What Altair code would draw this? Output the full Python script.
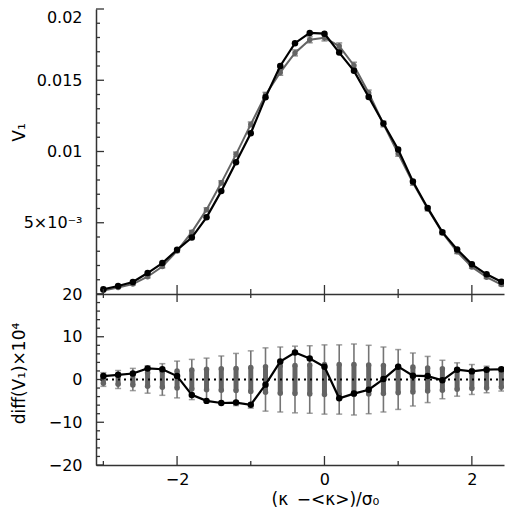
import altair as alt
import pandas as pd

# ---------------- data ----------------
xs = [-3.0, -2.8, -2.6, -2.4, -2.2, -2.0, -1.8, -1.6, -1.4, -1.2, -1.0, -0.8, -0.6, -0.4, -0.2,
      0.0, 0.2, 0.4, 0.6, 0.8, 1.0, 1.2, 1.4, 1.6, 1.8, 2.0, 2.2, 2.4, 2.6]

black_v = [0.00033, 0.00056, 0.00084, 0.00147, 0.00217, 0.0031, 0.00396, 0.00538, 0.00722, 0.00925,
           0.01128, 0.0138, 0.0160, 0.0176, 0.01832, 0.01827, 0.01694, 0.01566, 0.01382, 0.01196,
           0.01014, 0.0079, 0.00604, 0.00434, 0.00313, 0.00208, 0.00138, 0.00086, 0.0004]

gray_v = [0.00025, 0.00045, 0.0007, 0.00121, 0.00193, 0.00302, 0.00434, 0.00592, 0.0078, 0.0098,
          0.0119, 0.01396, 0.01555, 0.01692, 0.01784, 0.01798, 0.0174, 0.01604, 0.0141, 0.01193,
          0.00986, 0.0078, 0.00598, 0.0043, 0.00296, 0.0019, 0.00118, 0.00066, 0.00026]

# error of the gray curve in the top panel, in units of 1e-4
gray_err_e4 = [0.4, 0.5, 0.6, 0.8, 0.9, 1.0, 1.2, 1.3, 1.5, 1.6, 1.7, 1.9, 2.0, 2.1, 2.1,
               2.2, 2.2, 2.2, 2.1, 2.0, 1.9, 1.7, 1.5, 1.3, 1.2, 1.0, 0.9, 0.8, 0.7]

# bottom panel (diff x 1e4)
diff_black = [0.8, 1.1, 1.4, 2.6, 2.4, 0.8, -3.6, -5.0, -5.5, -5.4, -5.9, -1.2, 4.2, 6.3, 4.9,
              3.0, -4.4, -3.3, -2.4, 0.1, 3.0, 0.9, 0.8, -0.2, 2.3, 1.9, 2.3, 2.4, 1.6]
thin_err = [1.6, 2.1, 2.6, 3.2, 3.7, 4.3, 4.7, 5.0, 5.5, 6.1, 6.7, 7.4, 7.6, 7.8, 7.9,
            8.1, 8.1, 8.3, 8.0, 7.6, 7.0, 6.2, 5.4, 4.5, 3.9, 3.5, 3.1, 2.7, 2.3]
thick_err = [0.9, 1.1, 1.3, 1.6, 1.8, 2.0, 2.2, 2.4, 2.5, 2.6, 2.8, 3.0, 3.2, 3.3, 3.4,
             3.5, 3.5, 3.5, 3.4, 3.3, 3.1, 2.9, 2.7, 2.5, 2.3, 2.1, 2.0, 1.8, 1.6]

# tick values
x_major = [-2, 0, 2]
x_minor = [-3, -1, 1]
v_labels = [0.005, 0.01, 0.015, 0.02]
v_major = [0, 0.005, 0.01, 0.015, 0.02]
v_minor = [0.001, 0.002, 0.003, 0.004, 0.006, 0.007, 0.008, 0.009, 0.011, 0.012, 0.013, 0.014,
           0.016, 0.017, 0.018, 0.019]
d_major = [-20, -10, 0, 10, 20]
d_minor = [-18, -16, -14, -12, -8, -6, -4, -2, 2, 4, 6, 8, 12, 14, 16, 18]

# ---------------- styling ----------------
FONT = "DejaVu Sans"
GRAY = "#646464"
THIN = "#757575"
AX = "#333333"
W, H1, H2 = 408, 285, 171
XMIN, XMAX = -3.1, 2.436

xsc = alt.Scale(domain=[XMIN, XMAX], nice=False, zero=False)
ys1 = alt.Scale(domain=[0, 0.02], nice=False, zero=False)
ys2 = alt.Scale(domain=[-20, 20], nice=False, zero=False)

df = pd.DataFrame({"x": xs, "bv": black_v, "gv": gray_v,
                   "glo": [g - e * 1e-4 for g, e in zip(gray_v, gray_err_e4)],
                   "ghi": [g + e * 1e-4 for g, e in zip(gray_v, gray_err_e4)],
                   "d": diff_black,
                   "tlo": [-e for e in thin_err], "thi": thin_err,
                   "klo": [-e for e in thick_err], "khi": thick_err})

caps_top = pd.DataFrame({"x": xs + xs, "v": list(df["glo"]) + list(df["ghi"])})
caps_thin = pd.DataFrame({"x": xs + xs, "d": list(df["tlo"]) + list(df["thi"])})
dots_thick = pd.DataFrame({"x": xs + xs, "d": list(df["klo"]) + list(df["khi"])})

ax_common = dict(ticks=False, grid=False, domainColor=AX, domainWidth=1.5,
                 labelFont=FONT, labelFontSize=16, labelColor="black",
                 titleFont=FONT, titleFontWeight="normal", titleColor="black")

x_axis_top = alt.Axis(labels=False, title=None, **ax_common)
y_axis_top = alt.Axis(values=v_labels, title="V\u2081", labelPadding=14, labelFlush=True,
                      labelExpr="datum.value == 0.005 ? '5\u00d710\u207b\u00b3' : format(datum.value, '.3~f')",
                      titleX=-68, titleY=123, titleAngle=270, titleBaseline="bottom", titleAlign="center",
                      titleFontSize=17, **ax_common)
x_axis_bot = alt.Axis(values=x_major, title="(\u03ba\u2002\u2212<\u03ba>)/\u03c3\u2080", labelPadding=6,
                      titlePadding=4, titleX=229, titleAlign="center", titleFontSize=17, **ax_common)
y_axis_bot = alt.Axis(values=d_major, title="diff(V\u2081)\u00d710\u2074", labelPadding=14,
                      titleX=-68, titleY=79, titleAngle=270, titleBaseline="bottom", titleAlign="center",
                      titleFontSize=17, **ax_common)


def X(axis):
    return alt.X("x:Q", scale=xsc, axis=axis, title=None)


def Y(field, scale, axis):
    return alt.Y(f"{field}:Q", scale=scale, axis=axis, title=None)


def xticks(vals, y0, y1, xaxis):
    return alt.Chart(pd.DataFrame({"x": vals})).mark_rule(color=AX, strokeWidth=1.3).encode(
        x=X(xaxis), y=alt.value(y0), y2=alt.value(y1))


def yticks(vals, field, scale, length, yaxis):
    return alt.Chart(pd.DataFrame({field: vals})).mark_rule(color=AX, strokeWidth=1.3).encode(
        y=Y(field, scale, yaxis), x=alt.value(0), x2=alt.value(length))


base = alt.Chart(df)
xa, ya = x_axis_top, y_axis_top

# ---------------- top panel ----------------
top = alt.layer(
    base.mark_rule(color=GRAY, strokeWidth=1.5, clip=True).encode(
        x=X(xa), y=Y("glo", ys1, ya), y2="ghi:Q"),
    alt.Chart(caps_top).mark_tick(color=GRAY, size=6, thickness=1.5, orient="horizontal", clip=True).encode(
        x=X(xa), y=Y("v", ys1, ya)),
    base.mark_line(color=GRAY, strokeWidth=2, clip=True).encode(x=X(xa), y=Y("gv", ys1, ya)),
    base.mark_circle(color=GRAY, size=30, opacity=1, clip=True).encode(x=X(xa), y=Y("gv", ys1, ya)),
    base.mark_line(color="black", strokeWidth=2.2, clip=True).encode(x=X(xa), y=Y("bv", ys1, ya)),
    base.mark_circle(color="black", size=42, opacity=1, clip=True).encode(x=X(xa), y=Y("bv", ys1, ya)),
    xticks(x_major, H1, H1 - 9, xa),
    xticks(x_minor, H1, H1 - 5, xa),
    yticks(v_major, "v", ys1, 8, ya),
    yticks(v_minor, "v", ys1, 4, ya),
).properties(width=W, height=H1)

xb, yb = x_axis_bot, y_axis_bot

# ---------------- bottom panel ----------------
bottom = alt.layer(
    base.mark_rule(color=THIN, strokeWidth=1.6, clip=True).encode(
        x=X(xb), y=Y("tlo", ys2, yb), y2="thi:Q"),
    alt.Chart(caps_thin).mark_tick(color=THIN, size=6, thickness=1.5, orient="horizontal", clip=True).encode(
        x=X(xb), y=Y("d", ys2, yb)),
    base.mark_rule(color=GRAY, strokeWidth=5, clip=True).encode(
        x=X(xb), y=Y("klo", ys2, yb), y2="khi:Q"),
    alt.Chart(dots_thick).mark_circle(color=GRAY, size=30, opacity=1, clip=True).encode(
        x=X(xb), y=Y("d", ys2, yb)),
    alt.Chart(pd.DataFrame({"d": [0]})).mark_rule(color="black", strokeWidth=2, strokeDash=[2, 4]).encode(
        y=Y("d", ys2, yb)),
    base.mark_line(color="black", strokeWidth=2.2, clip=True).encode(x=X(xb), y=Y("d", ys2, yb)),
    base.mark_circle(color="black", size=42, opacity=1, clip=True).encode(x=X(xb), y=Y("d", ys2, yb)),
    xticks(x_major, 0, 8, xb),
    xticks(x_minor, 0, 4, xb),
    xticks(x_major, H2, H2 - 9, xb),
    xticks(x_minor, H2, H2 - 4, xb),
    yticks(d_major, "d", ys2, 8, yb),
    yticks(d_minor, "d", ys2, 4, yb),
).properties(width=W, height=H2)

chart = alt.vconcat(top, bottom, spacing=0, bounds="flush").properties(
    padding={"left": 2, "top": 0, "right": 0, "bottom": 0}
).configure_view(stroke=None)

chart.save("out.html", embed_options={"renderer": "svg", "actions": False})
